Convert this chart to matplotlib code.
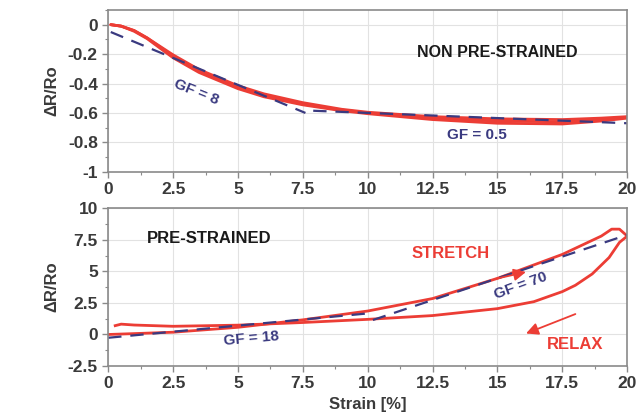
import matplotlib
matplotlib.use("Agg")
import matplotlib.pyplot as plt
from matplotlib.ticker import MultipleLocator, FuncFormatter

# --- top panel: non pre-strained (three nearly overlapping cycles) ---
top_x = [0.1, 0.5, 1.0, 1.5, 2.5, 3.5, 5.0, 6.0, 7.5, 9.0, 10.0, 12.5, 15.0, 17.5, 19.0, 20.0]
top_r1 = [0.0, -0.01, -0.04, -0.09, -0.205, -0.305, -0.415, -0.47, -0.53, -0.575, -0.595, -0.625, -0.64, -0.645, -0.635, -0.625]
top_r2 = [0.0, -0.01, -0.04, -0.09, -0.215, -0.315, -0.425, -0.48, -0.54, -0.58, -0.6, -0.635, -0.655, -0.66, -0.645, -0.63]
top_r3 = [0.0, -0.01, -0.045, -0.095, -0.225, -0.325, -0.435, -0.49, -0.545, -0.585, -0.605, -0.645, -0.67, -0.675, -0.655, -0.635]
top_fit1_x = [0.1, 7.6]
top_fit1_y = [-0.05, -0.6]
top_fit2_x = [7.9, 20.0]
top_fit2_y = [-0.585, -0.67]

# --- bottom panel: pre-strained, stretch and relax branches ---
st_x = [0.0, 1.0, 2.5, 5.0, 7.5, 10.0, 12.5, 15.0, 17.5, 19.0, 19.4, 19.7, 20.0]
st_y = [0.0, 0.07, 0.18, 0.57, 1.16, 1.86, 2.85, 4.45, 6.35, 7.8, 8.35, 8.35, 7.8]
rl_x = [20.0, 19.7, 19.3, 18.65, 18.0, 17.5, 16.4, 15.0, 12.5, 10.0, 7.5, 5.0, 2.5, 1.0, 0.5, 0.27]
rl_y = [7.8, 7.3, 6.1, 4.8, 3.9, 3.4, 2.6, 2.05, 1.5, 1.2, 0.95, 0.74, 0.65, 0.75, 0.82, 0.7]
bot_fit1_x = [0.0, 9.9]
bot_fit1_y = [-0.26, 1.65]
bot_fit2_x = [10.2, 20.0]
bot_fit2_y = [1.15, 7.9]

RED = "#ec3d35"
NAVY = "#3a3a80"
TXT = "#3a3a3a"

plt.rcParams["font.family"] = ["Liberation Sans", "DejaVu Sans"]
plt.rcParams["font.weight"] = "bold"

fig = plt.figure(figsize=(6.44, 4.15), dpi=100)
ax1 = fig.add_axes([0.168, 0.586, 0.806, 0.39])
ax2 = fig.add_axes([0.168, 0.118, 0.806, 0.38])


def fmt(v, p):
    v = round(v, 6)
    return f"{v:g}" if v != 0 else "0"


def style(ax, ymajor, yminor):
    ax.set_xlim(0, 20)
    ax.xaxis.set_major_locator(MultipleLocator(2.5))
    ax.xaxis.set_minor_locator(MultipleLocator(1.25))
    ax.yaxis.set_major_locator(MultipleLocator(ymajor))
    ax.yaxis.set_minor_locator(MultipleLocator(yminor))
    ax.xaxis.set_major_formatter(FuncFormatter(fmt))
    ax.yaxis.set_major_formatter(FuncFormatter(fmt))
    ax.grid(True, which="major", color="#e2e2e2", lw=0.8)
    ax.set_axisbelow(True)
    for s in ax.spines.values():
        s.set_color("#8a8a8a")
        s.set_linewidth(1.2)
    ax.tick_params(which="both", colors="#8a8a8a", labelcolor=TXT, labelsize=12.5)
    ax.tick_params(which="major", length=4, width=1)
    ax.tick_params(which="minor", length=2.5, width=0.8)
    ax.set_ylabel("ΔR/Ro", fontsize=12, fontweight="bold", color=TXT, labelpad=6)


# top panel
for yy in (top_r1, top_r2, top_r3):
    ax1.plot(top_x, yy, color=RED, lw=2.0, solid_capstyle="round")
ax1.plot(top_fit1_x, top_fit1_y, color=NAVY, lw=1.6, dashes=(6, 4))
ax1.plot(top_fit2_x, top_fit2_y, color=NAVY, lw=1.6, dashes=(6, 4))
style(ax1, 0.2, 0.1)
ax1.set_ylim(-1, 0.1)
ax1.text(15.0, -0.19, "NON PRE-STRAINED", ha="center", va="center", fontsize=11.5,
         fontweight="bold", color="#1a1a1a")
ax1.text(3.4, -0.46, "GF = 8", ha="center", va="center", fontsize=11,
         fontweight="bold", color=NAVY, rotation=-22)
ax1.text(14.2, -0.75, "GF = 0.5", ha="center", va="center", fontsize=11,
         fontweight="bold", color=NAVY)

# bottom panel
ax2.plot(st_x, st_y, color=RED, lw=2.0)
ax2.plot(rl_x, rl_y, color=RED, lw=2.0)
ax2.plot(bot_fit1_x, bot_fit1_y, color=NAVY, lw=1.6, dashes=(6, 4))
ax2.plot(bot_fit2_x, bot_fit2_y, color=NAVY, lw=1.6, dashes=(6, 4))
style(ax2, 2.5, 1.25)
ax2.set_ylim(-2.5, 10)
ax2.set_xlabel("Strain [%]", fontsize=12, fontweight="bold", color=TXT)
ax2.text(1.5, 7.6, "PRE-STRAINED", ha="left", va="center", fontsize=12,
         fontweight="bold", color="#1a1a1a")
ax2.text(13.2, 6.4, "STRETCH", ha="center", va="center", fontsize=12,
         fontweight="bold", color=RED)
ax2.text(18.0, -0.8, "RELAX", ha="center", va="center", fontsize=12,
         fontweight="bold", color=RED)
ax2.text(5.5, -0.3, "GF = 18", ha="center", va="center", fontsize=11,
         fontweight="bold", color=NAVY, rotation=5)
ax2.text(15.9, 3.9, "GF = 70", ha="center", va="center", fontsize=11,
         fontweight="bold", color=NAVY, rotation=20)
ax2.annotate("", xy=(16.0, 0.0), xytext=(18.1, 1.7),
             arrowprops=dict(arrowstyle="-|>", color=RED, lw=1.3, mutation_scale=18))
ax2.annotate("", xy=(16.2, 5.0), xytext=(14.8, 4.35),
             arrowprops=dict(arrowstyle="-|>", color=RED, lw=1.3, mutation_scale=18))

fig.savefig("out.png", dpi=100)
